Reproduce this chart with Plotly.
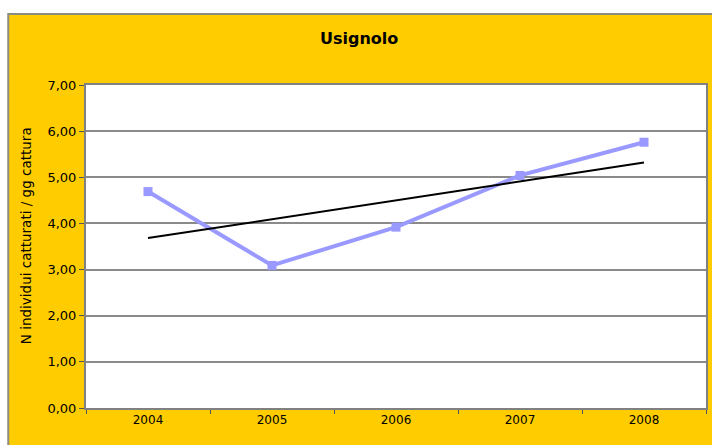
import numpy as np
import plotly.graph_objects as go

# Nightingale captures per day of trapping, by year
years = ["2004", "2005", "2006", "2007", "2008"]
catch_rate = [4.69, 3.09, 3.92, 5.04, 5.76]
y_ticks = [0, 1, 2, 3, 4, 5, 6, 7]
y_tick_text = ["0,00", "1,00", "2,00", "3,00", "4,00", "5,00", "6,00", "7,00"]

# Linear trend fitted to the yearly values
xi = np.arange(len(catch_rate))
slope, intercept = np.polyfit(xi, catch_rate, 1)
trend = (slope * xi + intercept).tolist()

W, H = 712, 445
ML, MR, MT, MB = 86, 4, 85, 37
pw, ph = W - ML - MR, H - MT - MB


def px_x(px):
    return (px - ML) / pw


def px_y(py):
    return (H - MB - py) / ph


font = "DejaVu Sans, Arial, sans-serif"

fig = go.Figure()
fig.add_trace(go.Scatter(
    x=years, y=catch_rate, mode="lines+markers",
    line=dict(color="#9999FF", width=4),
    marker=dict(symbol="square", size=9, color="#9999FF"),
    showlegend=False, hoverinfo="x+y",
))
fig.add_trace(go.Scatter(
    x=years, y=trend, mode="lines",
    line=dict(color="#000000", width=2),
    showlegend=False, hoverinfo="skip",
))

# Yellow chart area with its grey frame, then the white plotting area on top
fig.add_shape(
    type="rect", xref="paper", yref="paper", layer="below",
    x0=px_x(8), x1=px_x(W + 20), y0=px_y(H + 20), y1=px_y(14),
    fillcolor="#FFCC00", line=dict(color="#8C8C80", width=2),
)
fig.add_shape(
    type="rect", xref="paper", yref="paper", layer="below",
    x0=0, x1=1, y0=0, y1=1, fillcolor="white", line=dict(width=0),
)

# Vertical axis title
fig.add_annotation(
    text="N individui catturati / gg cattura", textangle=-90,
    xref="paper", yref="paper", x=px_x(26), y=px_y(236),
    xanchor="center", yanchor="middle", showarrow=False,
    font=dict(family=font, size=13.5, color="black"),
)

fig.update_layout(
    width=W, height=H,
    margin=dict(l=ML, r=MR, t=MT, b=MB),
    paper_bgcolor="white", plot_bgcolor="white",
    title=dict(text="<b>Usignolo</b>", x=px_x(360), xref="paper",
               y=1 - 38 / H, yref="container", xanchor="center", yanchor="middle",
               font=dict(family=font, size=16, color="black")),
    font=dict(family=font, size=13, color="black"),
)
fig.update_xaxes(
    type="category", tickson="boundaries", ticks="outside", ticklen=4,
    tickcolor="#555555", showgrid=False,
    showline=True, linecolor="#808080", linewidth=2, mirror=True,
    tickfont=dict(family=font, size=12, color="black"),
    range=[-0.5, 4.5],
)
fig.update_yaxes(
    range=[0, 7], tickvals=y_ticks, ticktext=y_tick_text,
    ticks="outside", ticklen=5, tickcolor="#555555",
    showgrid=True, gridcolor="#8a8a8a", gridwidth=1.5,
    showline=True, linecolor="#808080", linewidth=2, mirror=True,
    zeroline=False,
    tickfont=dict(family=font, size=13, color="black"),
)

fig.write_html("out.html")
